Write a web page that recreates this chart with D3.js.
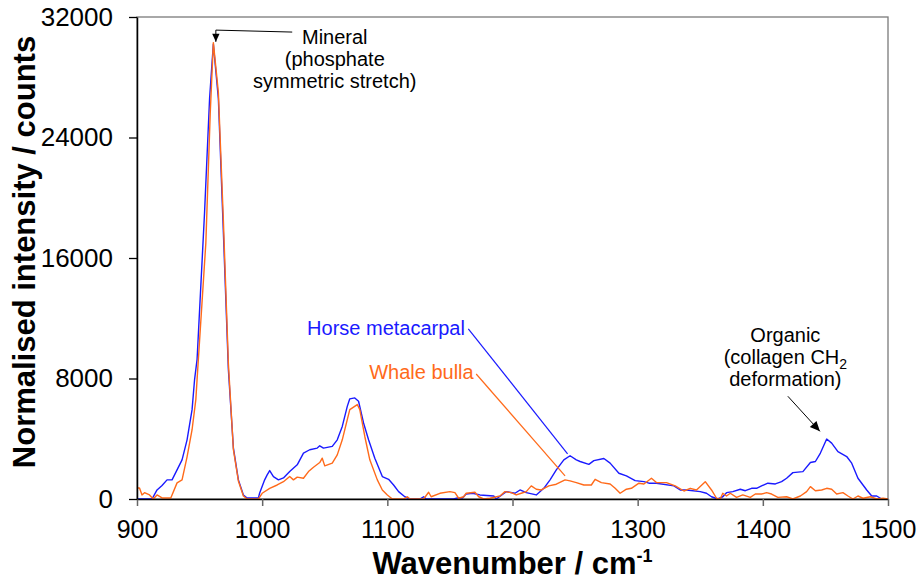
<!DOCTYPE html>
<html>
<head>
<meta charset="utf-8">
<script src="https://cdn.jsdelivr.net/npm/d3@7"></script>
<style>
	body { margin: 0; background: #fff; }
	text { font-family: Arial, "Liberation Sans", sans-serif; fill: #000; }
</style>
</head>
<body>
<div id="chart"></div>
<script>
const width = 918;
const height = 580;
const margin = { top: 17, right: 30, bottom: 81, left: 137 };

// spectra: [wavenumber, intensity]
const horseMetacarpal = [
	[900,0],[912,0],[916,600],[920,900],[924,1270],[928,1270],[932,1930],[936,2600],[940,3930],[944,5930],
	[946,7930],[948,9270],[954,19070],[958,26600],[961,30200],[965,26600],[969,17730],[973,8600],[977,3400],
	[981,1270],[985,270],[988,70],[997,70],[998,400],[1002,1270],[1004,1600],[1006,1890],[1009,1490],[1013,1270],
	[1017,1400],[1022,1820],[1028,2270],[1033,3050],[1038,3270],[1044,3380],[1046,3530],[1049,3380],[1056,3490],
	[1060,3930],[1064,4820],[1068,6150],[1070,6650],[1074,6710],[1077,6490],[1081,5050],[1085,3930],[1090,2710],
	[1096,1490],[1101,1310],[1105,930],[1109,490],[1114,150],[1118,0],[1126,0],[1129,150],[1131,0],[1153,0],
	[1156,70],[1160,70],[1163,330],[1168,380],[1174,270],[1185,200],[1187,0],[1195,490],[1202,380],[1206,600],
	[1211,420],[1219,270],[1225,710],[1230,1270],[1235,1930],[1241,2600],[1246,2870],[1251,2600],[1254,2490],
	[1261,2300],[1265,2550],[1273,2690],[1278,2380],[1285,1710],[1291,1530],[1298,1220],[1305,1150],[1309,1050],
	[1315,1050],[1329,870],[1334,600],[1339,600],[1350,490],[1355,380],[1359,150],[1364,0],[1368,150],[1371,420],
	[1376,490],[1382,650],[1386,550],[1391,710],[1395,710],[1399,870],[1404,1050],[1410,1000],[1415,1150],
	[1419,1380],[1424,1750],[1432,1820],[1438,2420],[1442,2490],[1446,3050],[1451,3980],[1455,3710],[1460,3150],
	[1467,2820],[1471,2380],[1476,1380],[1483,600],[1487,200],[1491,200],[1495,0],[1500,0]
];

const whaleBulla = [
	[900,730],[902,730],[904,270],[906,420],[910,270],[913,0],[916,270],[920,70],[927,70],[932,1070],[936,1270],
	[940,2800],[944,4600],[947,6600],[948,7930],[955,17000],[958.5,25600],[961,30300],[965,27000],[969,18500],
	[973,9000],[977,3300],[981,1200],[985,200],[988,0],[997,0],[1000,380],[1006,710],[1012,930],[1017,1150],
	[1022,1490],[1025,1270],[1028,1450],[1033,1380],[1037,1820],[1041,2110],[1046,2420],[1048,2710],[1050,2200],
	[1056,2380],[1060,2930],[1064,3930],[1068,5270],[1070,5930],[1076,6270],[1078,5930],[1082,4150],[1086,2600],
	[1092,1270],[1096,600],[1100,270],[1104,0],[1113,0],[1116,150],[1118,0],[1129,0],[1133,450],[1135,150],
	[1142,380],[1150,490],[1154,420],[1157,50],[1161,150],[1163,380],[1170,450],[1173,150],[1177,0],[1182,50],
	[1190,200],[1194,490],[1199,420],[1203,270],[1207,380],[1211,490],[1215,870],[1219,650],[1223,600],[1229,870],
	[1235,980],[1242,1270],[1246,1200],[1251,1090],[1257,930],[1263,930],[1266,1310],[1271,1090],[1278,1000],
	[1282,710],[1286,380],[1291,650],[1295,710],[1301,1050],[1305,1000],[1311,1380],[1315,1090],[1323,1090],
	[1330,870],[1337,530],[1342,710],[1347,600],[1354,1150],[1359,600],[1363,50],[1366,0],[1368,380],[1371,200],
	[1374,380],[1379,110],[1384,270],[1390,110],[1394,330],[1399,330],[1403,420],[1407,330],[1412,110],[1419,150],
	[1424,0],[1430,200],[1435,490],[1438,820],[1442,550],[1447,600],[1451,710],[1455,650],[1459,330],[1464,420],
	[1468,200],[1472,0],[1476,200],[1480,50],[1486,150],[1491,0],[1496,50],[1500,0]
];

const xTicks = [900, 1000, 1100, 1200, 1300, 1400, 1500];
const yTicks = [0, 8000, 16000, 24000, 32000];

const svg = d3
	.select("#chart")
	.append("svg")
	.attr("width", width)
	.attr("height", height);

const x = d3.scaleLinear().domain([900, 1500]).range([margin.left, width - margin.right]);
const y = d3.scaleLinear().domain([0, 32000]).range([height - margin.bottom, margin.top]);

// plot frame
svg.append("rect")
	.attr("x", x(900))
	.attr("y", y(32000))
	.attr("width", x(1500) - x(900))
	.attr("height", y(0) - y(32000))
	.attr("fill", "none")
	.attr("stroke", "#7a7a7a")
	.attr("stroke-width", 1.3);

svg.append("clipPath")
	.attr("id", "plot-clip")
	.append("rect")
	.attr("x", x(900))
	.attr("y", y(32000) - 2)
	.attr("width", x(1500) - x(900))
	.attr("height", y(0) - y(32000) + 2);

const line = d3.line()
	.x(d => x(d[0]))
	.y(d => y(d[1]));

const series = [
	{ name: "Horse metacarpal", data: horseMetacarpal, color: "#1a1aff" },
	{ name: "Whale bulla", data: whaleBulla, color: "#ff6a1a" }
];

svg.append("g")
	.attr("clip-path", "url(#plot-clip)")
	.selectAll("path")
	.data(series)
	.enter()
	.append("path")
	.attr("d", d => line(d.data))
	.attr("fill", "none")
	.attr("stroke", d => d.color)
	.attr("stroke-width", 1.4)
	.attr("stroke-linejoin", "round");

// axes
const xAxis = svg.append("g")
	.attr("transform", `translate(0,${y(0)})`)
	.call(d3.axisBottom(x).tickValues(xTicks).tickFormat(d3.format("d")).tickSize(7).tickPadding(14).tickSizeOuter(0));
xAxis.select(".domain").attr("stroke", "#000").attr("stroke-width", 1.5);
xAxis.selectAll(".tick line").attr("stroke", "#666").attr("stroke-width", 1.5);
xAxis.selectAll("text").attr("font-size", 25).attr("font-family", "Arial, 'Liberation Sans', sans-serif");

const yAxis = svg.append("g")
	.attr("transform", `translate(${x(900)},0)`)
	.call(d3.axisLeft(y).tickValues(yTicks).tickFormat(d3.format("d")).tickSize(8).tickPadding(16).tickSizeOuter(0));
yAxis.select(".domain").attr("stroke", "#000").attr("stroke-width", 1.5);
yAxis.selectAll(".tick line").attr("stroke", "#000").attr("stroke-width", 1.3);
yAxis.selectAll("text").attr("font-size", 26).attr("font-family", "Arial, 'Liberation Sans', sans-serif");

// axis titles
const xTitle = svg.append("text")
	.attr("x", (x(900) + x(1500)) / 2 + 0)
	.attr("y", 574)
	.attr("text-anchor", "middle")
	.attr("font-size", 31)
	.attr("font-weight", "bold");
xTitle.append("tspan").text("Wavenumber / cm");
xTitle.append("tspan").attr("font-size", 18).attr("dy", -12).text("-1");

svg.append("text")
	.attr("transform", `translate(35,${(y(0) + y(32000)) / 2 - 6}) rotate(-90)`)
	.attr("text-anchor", "middle")
	.attr("font-size", 31)
	.attr("font-weight", "bold")
	.text("Normalised intensity / counts");

// arrowheads
function arrowHead(tip, from, size) {
	const ang = Math.atan2(tip[1] - from[1], tip[0] - from[0]);
	const p = (a, r) => [tip[0] - r * Math.cos(ang + a), tip[1] - r * Math.sin(ang + a)];
	return [tip, p(0.42, size), p(-0.42, size)];
}

// Mineral annotation
const mineralPath = [[1024, 31000], [963, 31130], [963, 30350]].map(d => [x(d[0]), y(d[1])]);
svg.append("path")
	.attr("d", d3.line()(mineralPath))
	.attr("fill", "none")
	.attr("stroke", "#000")
	.attr("stroke-width", 1);
svg.append("path")
	.attr("d", d3.line()(arrowHead(mineralPath[2], mineralPath[1], 9)) + "Z")
	.attr("fill", "#000");

const mineralLines = ["Mineral", "(phosphate", "symmetric stretch)"];
svg.append("g")
	.selectAll("text")
	.data(mineralLines)
	.enter()
	.append("text")
	.attr("x", x(1058))
	.attr("y", (d, i) => y(30200) + i * 22)
	.attr("text-anchor", "middle")
	.attr("font-size", 20)
	.text(d => d);

// Organic annotation
const organicStart = [x(1420), y(6820)];
const organicTip = [x(1445.6), y(4490)];
svg.append("line")
	.attr("x1", organicStart[0]).attr("y1", organicStart[1])
	.attr("x2", organicTip[0]).attr("y2", organicTip[1])
	.attr("stroke", "#000")
	.attr("stroke-width", 1);
svg.append("path")
	.attr("d", d3.line()(arrowHead(organicTip, organicStart, 11)) + "Z")
	.attr("fill", "#000");

const orgX = x(1418);
const orgY = y(10450);
svg.append("text").attr("x", orgX).attr("y", orgY).attr("text-anchor", "middle").attr("font-size", 20).text("Organic");
const ch2 = svg.append("text").attr("x", orgX).attr("y", orgY + 22).attr("text-anchor", "middle").attr("font-size", 20);
ch2.append("tspan").text("(collagen CH");
ch2.append("tspan").attr("font-size", 14).attr("dy", 5).text("2");
svg.append("text").attr("x", orgX).attr("y", orgY + 44).attr("text-anchor", "middle").attr("font-size", 20).text("deformation)");

// series labels with leader lines
const seriesLabels = [
	{ text: "Horse metacarpal", color: "#1a1aff", at: [1162, 10900], from: [1164.7, 11300], to: [1244, 3000] },
	{ text: "Whale bulla", color: "#ff6a1a", at: [1169, 8000], from: [1171, 8300], to: [1242, 1530] }
];

seriesLabels.forEach(s => {
	svg.append("text")
		.attr("x", x(s.at[0]))
		.attr("y", y(s.at[1]))
		.attr("text-anchor", "end")
		.attr("font-size", 20)
		.style("fill", s.color)
		.text(s.text);
	svg.append("line")
		.attr("x1", x(s.from[0])).attr("y1", y(s.from[1]))
		.attr("x2", x(s.to[0])).attr("y2", y(s.to[1]))
		.attr("stroke", s.color)
		.attr("stroke-width", 1.2);
});
</script>
</body>
</html>
